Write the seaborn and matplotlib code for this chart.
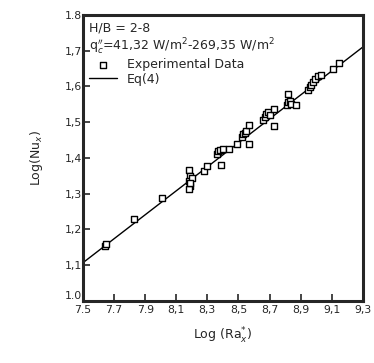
import pandas as pd
import matplotlib
matplotlib.use("Agg")
import matplotlib.pyplot as plt
import seaborn as sns

# experimental points
ra_exp = [7.64, 7.65, 7.83, 8.01, 8.18, 8.19, 8.18, 8.19, 8.18, 8.20, 8.19,
          8.28, 8.30, 8.36, 8.37, 8.38, 8.39, 8.40, 8.44, 8.49, 8.52, 8.53,
          8.54, 8.55, 8.57, 8.57, 8.66, 8.67, 8.68, 8.69, 8.70, 8.73, 8.73,
          8.81, 8.82, 8.83, 8.84, 8.87, 8.82, 8.95, 8.96, 8.97, 8.98, 8.99,
          9.01, 9.03, 9.11, 9.15]
nu_exp = [1.155, 1.160, 1.230, 1.287, 1.365, 1.350, 1.335, 1.322, 1.312, 1.345, 1.330,
          1.363, 1.378, 1.410, 1.418, 1.422, 1.380, 1.426, 1.424, 1.440, 1.458, 1.466,
          1.470, 1.475, 1.492, 1.438, 1.505, 1.515, 1.522, 1.527, 1.520, 1.490, 1.537,
          1.548, 1.555, 1.560, 1.550, 1.548, 1.578, 1.590, 1.598, 1.605, 1.612, 1.620,
          1.630, 1.632, 1.650, 1.665]

# Eq(4) correlation line
ra_line = [7.5, 9.3]
nu_line = [1.107, 1.71]

x_ticks = [7.5, 7.7, 7.9, 8.1, 8.3, 8.5, 8.7, 8.9, 9.1, 9.3]
x_labels = ["7.5", "7.7", "7.9", "8,1", "8,3", "8,5", "8,7", "8,9", "9,1", "9,3"]
y_ticks = [1.0, 1.1, 1.2, 1.3, 1.4, 1.5, 1.6, 1.7, 1.8]
y_labels = ["1.0", "1,1", "1,2", "1,3", "1,4", "1,5", "1,6", "1,7", "1.8"]

sns.set_style("ticks")
plt.rcParams['font.family'] = ['DejaVu Sans']

exp = pd.DataFrame({'ra': ra_exp, 'nu': nu_exp})
eq = pd.DataFrame({'ra': ra_line, 'nu': nu_line})

fig = plt.figure(figsize=(3.74, 3.63), dpi=100)
ax = fig.add_axes([0.222, 0.171, 0.748, 0.788])

sns.lineplot(data=eq, x='ra', y='nu', ax=ax, color='black', lw=1.0, label='Eq(4)')
sns.scatterplot(data=exp, x='ra', y='nu', ax=ax, marker='s', s=18,
                facecolor='white', edgecolor='black', linewidth=1.0,
                label='Experimental Data', zorder=3)

ax.set_xlim(7.5, 9.3)
ax.set_ylim(1.0, 1.8)
ax.set_xticks(x_ticks)
ax.set_xticklabels(x_labels)
ax.set_yticks(y_ticks)
ax.set_yticklabels(y_labels)
ax.tick_params(direction='in', length=5, width=1.2, labelsize=7.8, pad=1)
ax.tick_params(axis='x', pad=3)
ax.get_yticklabels()[0].set_verticalalignment('bottom')
for sp in ax.spines.values():
    sp.set_visible(True)
    sp.set_linewidth(2.2)

ax.set_xlabel(r"Log (Ra$_x^{*}$)", fontsize=9, labelpad=8)
ax.set_ylabel(r"Log(Nu$_x$)", fontsize=9, labelpad=14)

handles, labels = ax.get_legend_handles_labels()
leg = ax.legend(handles[::-1], labels[::-1],
                title="H/B = 2-8\n" + r"q$_c^{\prime\prime}$=41,32 W/m$^2$-269,35 W/m$^2$",
                loc='upper left', frameon=False, fontsize=9, title_fontsize=9,
                alignment='left', handlelength=2.2, borderaxespad=0.3,
                labelspacing=0.1, borderpad=0.2)

fig.savefig("out.png", dpi=100)
